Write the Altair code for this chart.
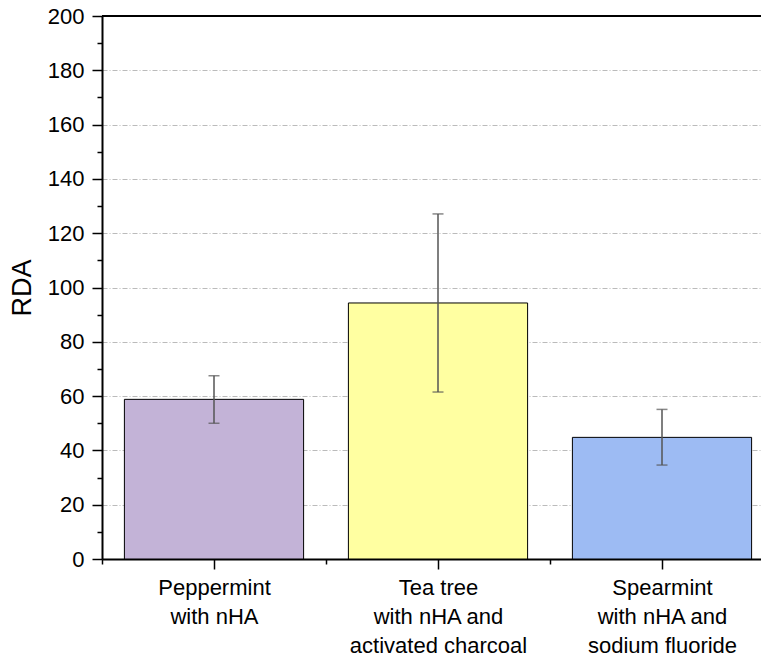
import altair as alt
import pandas as pd

categories = [
    "Peppermint with nHA",
    "Tea tree with nHA and activated charcoal",
    "Spearmint with nHA and sodium fluoride",
]
label_lines = [
    ["Peppermint", "with nHA"],
    ["Tea tree", "with nHA and", "activated charcoal"],
    ["Spearmint", "with nHA and", "sodium fluoride"],
]
rda = [58.8, 94.3, 44.8]
err_low = [50.0, 61.5, 34.6]
err_high = [67.5, 127.1, 55.1]
colors = ["#C3B3D7", "#FFFFA1", "#9DBBF3"]
y_ticks = list(range(0, 201, 10))

W, H = 659, 543
STEP = 224.0

df = pd.DataFrame({
    "category": categories,
    "idx": list(range(len(categories))),
    "rda": rda,
    "low": err_low,
    "high": err_high,
    "zero": [0] * len(categories),
})

def arr(lines):
    return "[" + ",".join("'" + s + "'" for s in lines) + "]"

label_expr = ""
for i, lines in enumerate(label_lines):
    label_expr += f"datum.value == {i + 0.5} ? {arr(lines)} : "
label_expr += "''"

x_values = []
for i in range(len(categories)):
    x_values += [i, i + 0.5]

xscale = alt.Scale(domain=[0, W / STEP], nice=False, zero=False)
yscale = alt.Scale(domain=[0, 200], nice=False)

x_axis = alt.Axis(
    values=x_values,
    labelExpr=label_expr,
    tickSize={"condition": {"test": "datum.value % 1 == 0", "value": 5}, "value": 10},
    tickColor="black", tickWidth=1.5,
    domainColor="black", domainWidth=2,
    labelFontSize=22, labelColor="black", labelPadding=8,
    labelLineHeight=29, labelFlush=False, labelOverlap=False, labelBound=False,
    labelBaseline="top",
    grid=False, title=None,
)
y_axis = alt.Axis(
    values=y_ticks,
    labelExpr="datum.value % 20 == 0 ? datum.label : ''",
    tickSize={"condition": {"test": "datum.value % 20 == 0", "value": 10}, "value": 5},
    tickColor="black", tickWidth=1.5,
    domainColor="black", domainWidth=2,
    grid=True, gridDash=[5, 2, 1, 2], gridColor="#BBBBBB", gridWidth=1,
    gridOpacity={"condition": {"test": "datum.value % 20 == 0", "value": 1}, "value": 0},
    labelFontSize=22, labelColor="black", labelPadding=8, labelOverlap=False,
    title="RDA", titleFontSize=27, titleFontWeight="normal", titleColor="black",
    titlePadding=11,
)

base = alt.Chart(df).transform_calculate(
    x0="datum.idx + 0.1", x1="datum.idx + 0.9", xc="datum.idx + 0.5"
)

bars = base.mark_bar(stroke="black", strokeWidth=1).encode(
    x=alt.X("x0:Q", scale=xscale, axis=x_axis),
    x2="x1:Q",
    y=alt.Y("rda:Q", scale=yscale, axis=y_axis),
    y2="zero:Q",
    color=alt.Color("category:N", scale=alt.Scale(domain=categories, range=colors), legend=None),
)

errs = base.mark_errorbar(ticks=True, size=11, thickness=1.5, color="#555555").encode(
    x=alt.X("xc:Q", scale=xscale, axis=x_axis),
    y=alt.Y("low:Q", scale=yscale, axis=y_axis),
    y2="high:Q",
)

top = alt.Chart(pd.DataFrame({"v": [200]})).mark_rule(color="black", strokeWidth=2).encode(
    y=alt.Y("v:Q", scale=yscale, axis=y_axis)
)

chart = alt.layer(bars, errs, top).properties(
    width=W, height=H,
    autosize=alt.AutoSizeParams(type="none"),
    padding={"left": 94, "top": 8, "right": 0, "bottom": 100},
).configure(font="Liberation Sans").configure_view(stroke=None)

chart.save("out.html", embed_options={"renderer": "svg", "actions": False})
